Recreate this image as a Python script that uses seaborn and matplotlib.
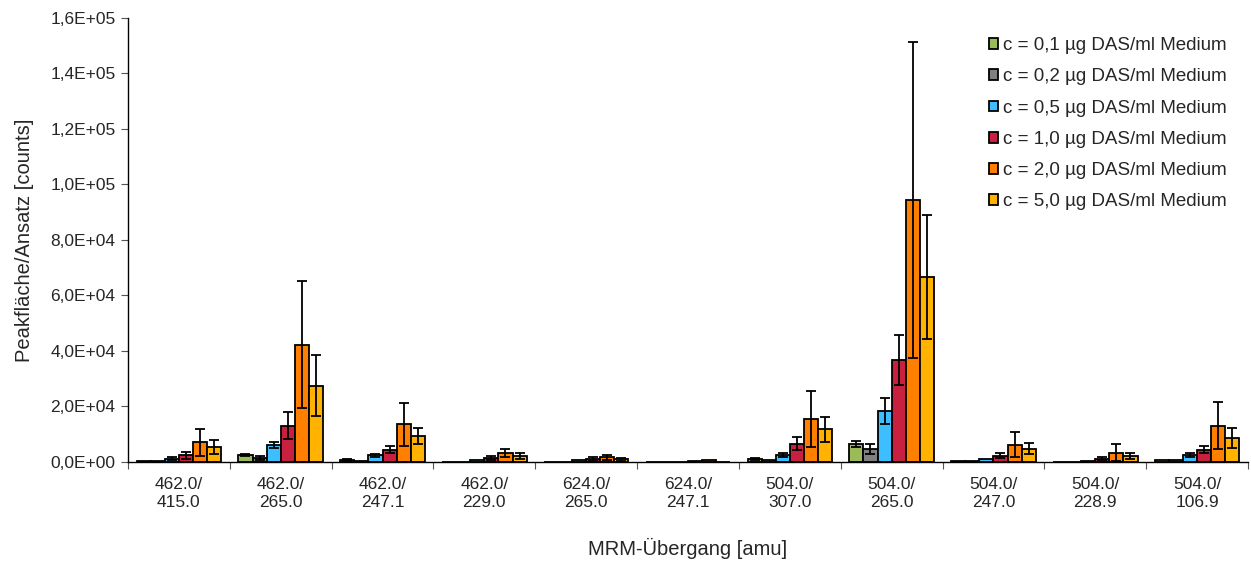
import numpy as np
import pandas as pd
import matplotlib
matplotlib.use("Agg")
import matplotlib.pyplot as plt
import seaborn as sns
from matplotlib.ticker import FuncFormatter, FixedLocator

categories = ["462.0/\n415.0", "462.0/\n265.0", "462.0/\n247.1", "462.0/\n229.0",
              "624.0/\n265.0", "624.0/\n247.1", "504.0/\n307.0", "504.0/\n265.0",
              "504.0/\n247.0", "504.0/\n228.9", "504.0/\n106.9"]
series = ["c = 0,1 µg DAS/ml Medium", "c = 0,2 µg DAS/ml Medium", "c = 0,5 µg DAS/ml Medium",
          "c = 1,0 µg DAS/ml Medium", "c = 2,0 µg DAS/ml Medium", "c = 5,0 µg DAS/ml Medium"]

c01 = [400, 2500, 700, 100, 50, 100, 1100, 6400, 400, 100, 600]
c02 = [250, 1550, 500, 100, 50, 100, 700, 4700, 300, 100, 700]
c05 = [1200, 6200, 2400, 700, 600, 150, 2500, 18500, 1000, 500, 2500]
c10 = [2400, 13100, 4400, 1300, 1000, 200, 6600, 36800, 2300, 1200, 4400]
c20 = [7100, 42300, 13600, 3100, 1700, 700, 15500, 94400, 6200, 3400, 13100]
c50 = [5400, 27400, 9300, 2000, 1000, 150, 11800, 66700, 4700, 2200, 8800]

e01 = [0, 300, 400, 0, 0, 0, 400, 1100, 0, 0, 0]
e02 = [0, 700, 0, 0, 0, 0, 0, 1700, 0, 0, 0]
e05 = [500, 1100, 600, 0, 0, 0, 600, 4700, 0, 0, 600]
e10 = [1200, 5000, 1300, 700, 800, 0, 2300, 9000, 1000, 500, 1200]
e20 = [4900, 22800, 7800, 1400, 900, 0, 10100, 57000, 4500, 3000, 8400]
e50 = [2600, 11000, 2900, 1100, 600, 0, 4500, 22300, 2000, 1100, 3600]

colors = ["#9BBB59", "#808080", "#3CBEFF", "#C8203F", "#FF8000", "#FFB300"]

values = [c01, c02, c05, c10, c20, c50]
errors = [e01, e02, e05, e10, e20, e50]

rows = []
for s, vals, errs in zip(series, values, errors):
    for cat, v, e in zip(categories, vals, errs):
        rows.append({"cat": cat, "series": s, "value": v, "err": e})
df = pd.DataFrame(rows)

sns.set_style("ticks")
plt.rcParams['font.family'] = ['Liberation Sans', 'DejaVu Sans']

fig = plt.figure(figsize=(12.51, 5.62), dpi=100)
ax = fig.add_axes([0.1023, 0.178, 0.8953, 0.790])

sns.barplot(data=df, x="cat", y="value", hue="series", palette=colors,
            order=categories, hue_order=series, width=0.83, gap=0, saturation=1,
            edgecolor="black", linewidth=1.3, errorbar=None, ax=ax, legend=True)

# error bars from bar patches
for container, s in zip(ax.containers, series):
    sub = df[df["series"] == s].set_index("cat").loc[categories]
    for patch, v, e in zip(container.patches, sub["value"], sub["err"]):
        if e > 0:
            xc = patch.get_x() + patch.get_width() / 2
            ax.errorbar(xc, v, yerr=e, color="black", capsize=3.5, elinewidth=1.3,
                        capthick=1.3, fmt="none", zorder=5)

ax.set_ylim(0, 1.6e5)
ax.set_xlim(-0.5, len(categories) - 0.5)
ax.yaxis.set_major_locator(FixedLocator(np.arange(0, 1.61e5, 2e4)))
ax.yaxis.set_major_formatter(FuncFormatter(lambda v, p: f"{v:.1E}".replace(".", ",")))
ax.xaxis.set_minor_locator(FixedLocator(np.arange(-0.5, len(categories), 1.0)))
ax.tick_params(axis="x", which="major", length=0, pad=11, labelsize=12.5)
ax.tick_params(axis="x", which="minor", length=5, width=0.8, color="#555555")
ax.tick_params(axis="y", length=5, width=0.8, color="#555555", labelsize=12.5, pad=4)
for lab in ax.get_xticklabels():
    lab.set_multialignment("center")
    lab.set_linespacing(1.25)

ax.set_xlabel("MRM-Übergang [amu]", fontsize=14.5, labelpad=20)
ax.set_ylabel("Peakfläche/Ansatz [counts]", fontsize=14.5, labelpad=12)
for sp in ["top", "right"]:
    ax.spines[sp].set_visible(False)
for sp in ["left", "bottom"]:
    ax.spines[sp].set_linewidth(1.0)
    ax.spines[sp].set_color("black")

leg = ax.legend(loc="upper right", bbox_to_anchor=(0.991, 0.982), frameon=False,
                fontsize=13.5, handlelength=0.5, handleheight=0.5, handletextpad=0.25,
                labelspacing=0.76, borderaxespad=0.2)
for h in leg.legend_handles:
    h.set_edgecolor("black")
    h.set_linewidth(1.3)

fig.savefig("out.png", dpi=100)
